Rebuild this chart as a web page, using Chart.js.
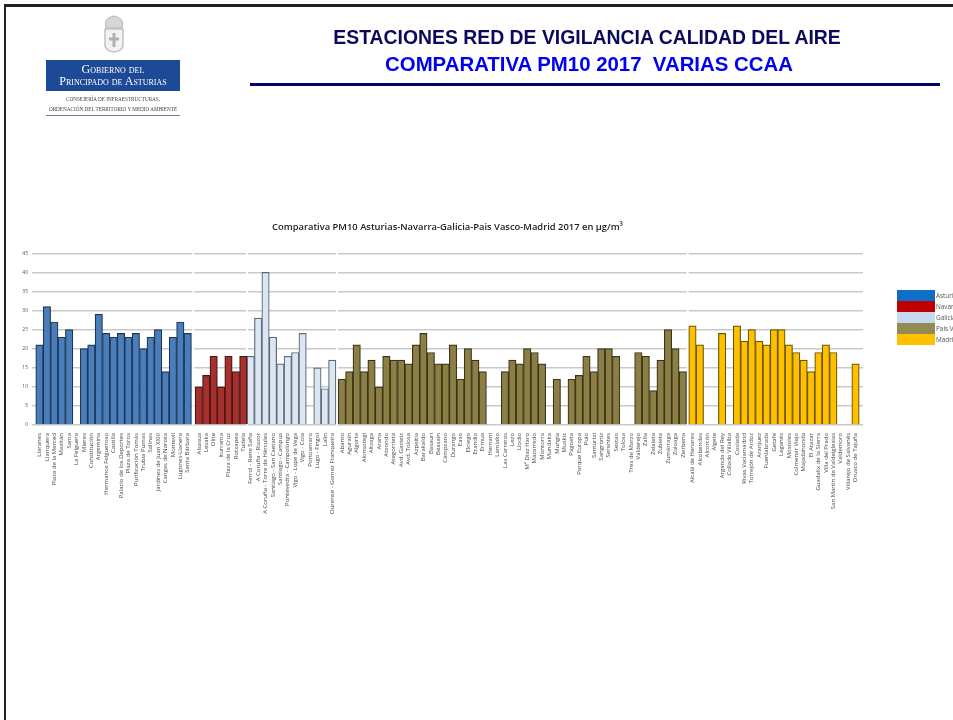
<!DOCTYPE html>
<html lang="es">
<head>
<meta charset="utf-8">
<title>Comparativa PM10 2017</title>
<script src="https://cdn.jsdelivr.net/npm/chart.js@4"></script>
<style>
html, body { margin: 0; padding: 0; background: #fff; overflow: hidden; }
#page { position: relative; width: 953px; height: 720px; overflow: hidden; font-family: "Liberation Sans", sans-serif; }
#frame-top { position: absolute; left: 4px; top: 4px; width: 949px; height: 3px; background: #222; }
#frame-left { position: absolute; left: 4px; top: 4px; width: 2px; height: 716px; background: #222; }
#chart-box { position: absolute; left: 0; top: 0; width: 953px; height: 720px; filter: blur(0.5px); }
.head { position: absolute; width: 690px; text-align: center; font-weight: bold; white-space: pre; }
#head1 { top: 26px; color: #0a0a5c; left: 242px; font-size: 19.4px; }
#head2 { top: 53px; color: #0000f0; left: 244px; font-size: 20.4px; }
#rule { position: absolute; left: 250px; top: 83px; width: 690px; height: 3px; background: #00006a; }
#logo { position: absolute; left: 46px; top: 60px; width: 134px; height: 31px; background: #1c4a96; color: #fff; text-align: center; font-family: "Liberation Serif", serif; font-variant: small-caps; font-size: 12px; line-height: 12px; padding-top: 3px; box-sizing: border-box; filter: blur(0.3px); white-space: nowrap; }
#sub { position: absolute; left: 46px; top: 94px; width: 134px; text-align: center; font-family: "Liberation Serif", serif; font-size: 5.2px; line-height: 10px; color: #444; white-space: nowrap; }
#logo-rule { position: absolute; left: 46px; top: 115px; width: 134px; height: 1px; background: #6a7f9c; }
#shield { position: absolute; left: 103px; top: 15px; filter: blur(0.4px); }
</style>
</head>
<body>
<div id="page">
  <div id="chart-box"><canvas id="pm10-chart" width="953" height="720"></canvas></div>
  <div id="frame-top"></div>
  <div id="frame-left"></div>
  <svg id="shield" width="22" height="38" viewBox="0 0 22 38">
    <path d="M3 13 Q1 5 6 3 Q11 -1 16 3 Q21 5 19 13 Z" fill="#d6d6d6" stroke="#b5b5b5"/>
    <path d="M2 14 H20 V30 Q20 36 11 37 Q2 36 2 30 Z" fill="#f2f2f2" stroke="#c2c2c2" stroke-width="1.5"/>
    <path d="M11 18 V32 M6 24 H16" stroke="#b0b0b0" stroke-width="3"/>
  </svg>
  <div id="logo">Gobierno del<br>Principado de Asturias</div>
  <div id="sub">CONSEJERÍA DE INFRAESTRUCTURAS,<br>ORDENACIÓN DEL TERRITORIO Y MEDIO AMBIENTE</div>
  <div id="logo-rule"></div>
  <div class="head" id="head1">ESTACIONES RED DE VIGILANCIA CALIDAD DEL AIRE</div>
  <div class="head" id="head2">COMPARATIVA PM10 2017  VARIAS CCAA</div>
  <div id="rule"></div>
</div>

<script>
const regions = ['Asturias', 'Navarra', 'Galicia', 'Pais Vasco', 'Madrid'];

const asturiasStations = ['Llaranes', 'Llanquera', 'Plaza de la Merced', 'Maxitán', 'Sama', 'La Felguera', 'Mieres', 'Constitución', 'Argentina', 'Hermanos Felgueroso', 'Castilla', 'Palacio de los Deportes', 'Plaza de Toros', 'Purificación Tomás', 'Trubia Pumas', 'Salinas', 'Jardines de Juan XXIII', 'Cangas de Narcea', 'Montevil', 'Lugones-Llanera', 'Santa Bárbara'];
const asturiasValues = [21, 31, 27, 23, 25, null, 20, 21, 29, 24, 23, 24, 23, 24, 20, 23, 25, 14, 23, 27, 24];

const navarraStations = ['Alsasua', 'Lesaka', 'Olite', 'Iturrama', 'Plaza de la Cruz', 'Rotxapea', 'Tudela'];
const navarraValues = [10, 13, 18, 10, 18, 14, 18];

const galiciaStations = ['Ferrol - Rene Saña', 'A Coruña - Riazor', 'A Coruña - Torre de Hércules', 'Santiago - San Caetano', 'Santiago - Campus', 'Pontevedra - Campolongo', 'Vigo - Lope de Vega', 'Vigo - Coia', 'Portoamaro', 'Lugo - Fingoi', 'Lalín', 'Ourense - Gomez Franqueira'];
const galiciaValues = [18, 28, 40, 23, 16, 18, 19, 24, null, 15, 9.5, 17];

const paisVascoStations = ['Abanto', 'Agurain', 'Algorta', 'Alonsotegi', 'Altzaga', 'Arana', 'Atxondo', 'Ategorrieta', 'Avd. Gasteiz', 'Avd. Tolosa', 'Azpeitia', 'Barakaldo', 'Basauri', 'Beasain', 'Cámpzano', 'Durango', 'Easo', 'Elciego', 'Erandio', 'Ermua', 'Hernani', 'Lamiako', 'Las Carreras', 'Lezo', 'Llodio', 'Mª Díaz Haro', 'Mazarredo', 'Montorra', 'Mundaka', 'Mungia', 'Muskiz', 'Pagoeta', 'Parque Europa', 'Puio', 'Santurtzi', 'Sangroniz', 'Serantes', 'Sestao', 'Tolosa', 'Tres de Marzo', 'Valderejo', 'Zalla', 'Zelaieta', 'Zubieta', 'Zumárraga', 'Zuloaga', 'Zierbena'];
const paisVascoValues = [12, 14, 21, 14, 17, 10, 18, 17, 17, 16, 21, 24, 19, 16, 16, 21, 12, 20, 17, 14, null, null, 14, 17, 16, 20, 19, 16, null, 12, null, 12, 13, 18, 14, 20, 20, 18, null, null, 19, 18, 9, 17, 25, 20, 14];

const madridStations = ['Alcalá de Henares', 'Alcobendas', 'Alcorcón', 'Algete', 'Arganda del Rey', 'Collado Villalba', 'Coslada', 'Rivas Vaciamadrid', 'Torrejón de Ardoz', 'Aranjuez', 'Fuenlabrada', 'Getafe', 'Leganés', 'Móstoles', 'Colmenar Viejo', 'Majadahonda', 'El Atazar', 'Guadalix de la Sierra', 'Villa del Prado', 'San Martín de Valdeiglesias', 'Valdemoro', 'Villarejo de Salvanés', 'Orusco de Tajuña'];
const madridValues = [26, 21, null, null, 24, null, 26, 22, 25, 22, 21, 25, 25, 21, 19, 17, 14, 19, 21, 19, null, null, 16];

const yTicks = [0, 5, 10, 15, 20, 25, 30, 35, 40, 45];

const stationGroups = [asturiasStations, navarraStations, galiciaStations, paisVascoStations, madridStations];
const valueGroups = [asturiasValues, navarraValues, galiciaValues, paisVascoValues, madridValues];
const barColors = ['#4a7ebb', '#a5302d', '#dce6f2', '#8c7f45', '#ffc000'];
const edgeColors = ['#1d3557', '#4a1512', '#5f6b78', '#3a3418', '#6e5600'];
const legendColors = ['#0f6fc6', '#c00000', '#c6d9f1', '#948a54', '#ffc000'];
// small breaks between the pasted groups, in bar widths
const gapAfter = [0.5, 0, 0.3, 0.3, 0];

let cursor = 0;
const allStations = [];
const tickPositions = [];
const groupBreaks = [];
const datasets = regions.map((name, g) => {
    const points = valueGroups[g].map((v, i) => {
        const x = cursor + i;
        allStations.push(stationGroups[g][i]);
        tickPositions.push({ value: x });
        return { x: x, y: v };
    });
    cursor += valueGroups[g].length + gapAfter[g];
    if (g < regions.length - 1) groupBreaks.push(cursor - gapAfter[g] - 0.5 + gapAfter[g] / 2);
    return {
        label: name,
        data: points,
        backgroundColor: barColors[g],
        borderColor: edgeColors[g],
        borderWidth: 1.2,
        barPercentage: 1,
        categoryPercentage: 1,
        grouped: false
    };
});

// white cuts through the grid where the groups meet
const gridBreaks = {
    id: 'gridBreaks',
    beforeDatasetsDraw(chart) {
        const c = chart.ctx, area = chart.chartArea, xs = chart.scales.x;
        c.save();
        c.fillStyle = '#fff';
        groupBreaks.forEach(b => c.fillRect(xs.getPixelForValue(b) - 1, area.top - 2, 2, area.bottom - area.top + 2));
        c.restore();
    }
};

const sideLegend = {
    id: 'sideLegend',
    afterDraw(chart) {
        const c = chart.ctx;
        c.save();
        c.font = '6.4px "Open Sans"';
        c.textBaseline = 'middle';
        regions.forEach((name, i) => {
            const y = 290 + i * 11;
            c.fillStyle = legendColors[i];
            c.fillRect(897, y, 38, 11);
            c.fillStyle = '#555';
            c.fillText(name, 936, y + 6);
        });
        c.restore();
    }
};

new Chart(document.getElementById('pm10-chart'), {
    type: 'bar',
    data: { datasets: datasets },
    plugins: [gridBreaks, sideLegend],
    options: {
        responsive: false,
        animation: false,
        layout: { padding: { top: 220, left: 18, right: 90, bottom: 195 } },
        plugins: {
            legend: { display: false },
            tooltip: { enabled: false },
            title: {
                display: true,
                fullSize: false,
                text: 'Comparativa PM10 Asturias-Navarra-Galicia-Pais Vasco-Madrid 2017 en µg/m³',
                color: '#222',
                font: { family: '"Open Sans"', size: 9.4, weight: '600' },
                padding: { top: 2, bottom: 20 }
            }
        },
        scales: {
            x: {
                type: 'linear',
                min: -0.5,
                max: cursor - 0.5,
                grid: { display: false },
                border: { display: false },
                afterBuildTicks(scale) { scale.ticks = tickPositions; },
                afterFit(scale) { scale.height = 100; },
                ticks: {
                    autoSkip: false,
                    minRotation: 90,
                    maxRotation: 90,
                    padding: 0,
                    color: '#444',
                    font: { family: '"Open Sans"', size: 6 },
                    callback: (v, i) => allStations[i]
                }
            },
            y: {
                min: 0,
                max: 45,
                afterBuildTicks(scale) { scale.ticks = yTicks.map(v => ({ value: v })); },
                afterFit(scale) { scale.width = 14; },
                grid: { color: '#c9c9c9', lineWidth: 1.5, drawTicks: false },
                border: { display: false },
                ticks: { color: '#555', padding: 4, font: { family: '"Open Sans"', size: 5 } }
            }
        }
    }
});
</script>
</body>
</html>
